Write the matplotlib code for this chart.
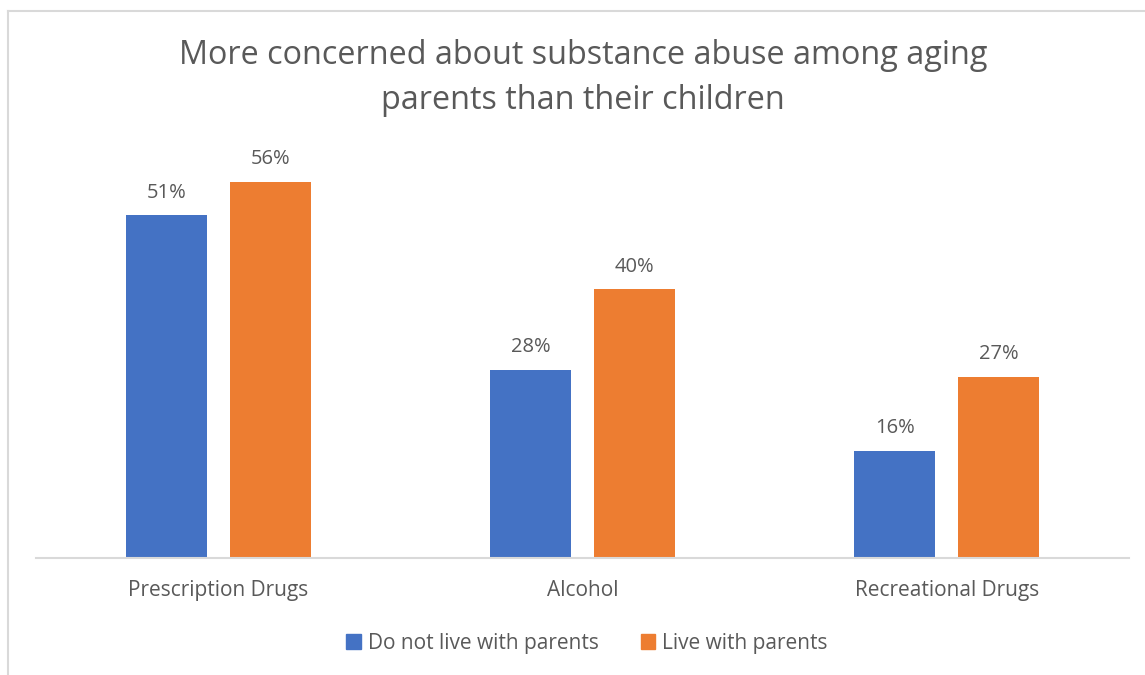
import matplotlib
matplotlib.use("Agg")
import matplotlib.pyplot as plt
from matplotlib.lines import Line2D
from matplotlib.patches import Patch
import numpy as np

categories = ["Prescription Drugs", "Alcohol", "Recreational Drugs"]
not_live = [51, 28, 16]
live = [56, 40, 27]
series_names = ["Do not live with parents", "Live with parents"]
title = "More concerned about substance abuse among aging\nparents than their children"

BLUE = "#4472C4"
ORANGE = "#ED7D31"
TXT = "#595959"
FONT = ["Open Sans", "DejaVu Sans"]
plt.rcParams['font.family'] = FONT

W, H = 1145, 675
fig = plt.figure(figsize=(W / 100, H / 100), dpi=100)

# chart border (cropped)
fig.add_artist(Line2D([7.5 / W, 7.5 / W], [0, 1 - 10.5 / H], color="#d9d9d9", lw=1.5))
fig.add_artist(Line2D([7.5 / W, 1], [1 - 10.5 / H, 1 - 10.5 / H], color="#d9d9d9", lw=1.5))

ax = fig.add_axes([36 / W, 1 - 558 / H, (1129 - 36) / W, (558 - 155) / H])
x = np.arange(len(categories))
bw = 81 / 364.3
off = (81 + 23) / 2 / 364.3
b1 = ax.bar(x - off, not_live, bw, color=BLUE)
b2 = ax.bar(x + off, live, bw, color=ORANGE)
for bars, vals in ((b1, not_live), (b2, live)):
    for r, v in zip(bars, vals):
        ax.annotate(f"{v}%", (r.get_x() + r.get_width() / 2, v), xytext=(0, 9),
                    textcoords="offset points", ha="center", va="bottom",
                    fontsize=14.5, color=TXT)
ax.set_xlim(-0.5, 2.5)
ax.set_ylim(0, 60)
ax.set_yticks([])
ax.set_xticks(x)
ax.set_xticklabels(categories, fontsize=15, color=TXT)
ax.tick_params(axis="x", length=0, pad=16)
for s in ("top", "right", "left"):
    ax.spines[s].set_visible(False)
ax.spines["bottom"].set_color("#d9d9d9")
ax.spines["bottom"].set_linewidth(1.5)

fig.text(583 / W, 1 - 78 / H, title, ha="center", va="center", fontsize=23.3,
         color=TXT, linespacing=1.5)

handles = [Patch(color=BLUE), Patch(color=ORANGE)]
fig.legend(handles, series_names, loc="center", bbox_to_anchor=(587 / W, 1 - 643 / H),
           ncol=2, frameon=False, fontsize=15, labelcolor=TXT, handlelength=0.7,
           handleheight=0.7, handletextpad=0.35, columnspacing=2.0)

fig.savefig("out.png", dpi=100, facecolor="white")
